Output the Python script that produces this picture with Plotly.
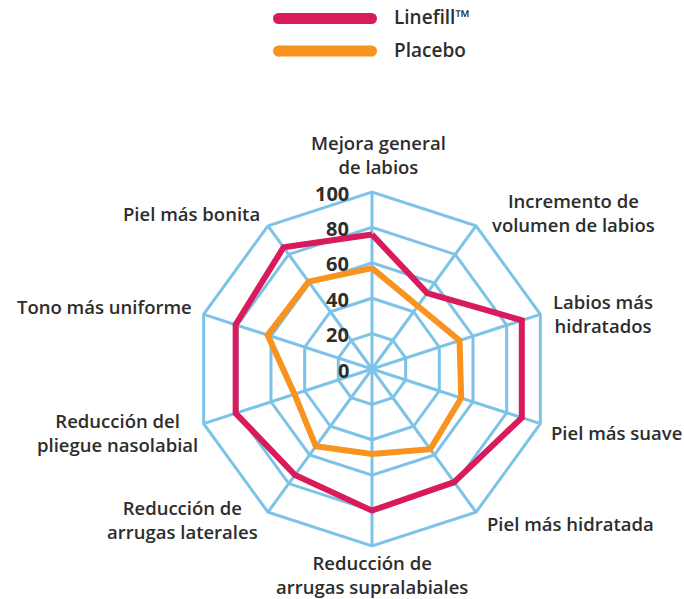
import plotly.graph_objects as go

categories = [
    "Mejora general<br>de labios",
    "Incremento de<br>volumen de labios",
    "Labios más<br>hidratados",
    "Piel más suave",
    "Piel más hidratada",
    "Reducción de<br>arrugas supralabiales",
    "Reducción de<br>arrugas laterales",
    "Reducción del<br>pliegue nasolabial",
    "Tono más uniforme",
    "Piel más bonita",
]
linefill = [76, 53, 89, 89, 79, 80, 74, 81, 81, 85]
placebo = [57, 44, 52, 53, 56, 48, 54, 46, 62, 61]
series_names = ["Linefill™", "Placebo"]
radial_ticks = [0, 20, 40, 60, 80, 100]

W, H = 684, 599
RED = "#D81B5B"
ORANGE = "#F7931E"
BLUE = "#7DC3E8"
TXT = "#2D2D2D"
FONT = "Open Sans"

# pixel placement (screen) of the category label blocks (layout only)
label_pos = [(378, 154.5), (573, 212.5), (603, 313), (616, 432), (570, 523),
             (372, 574), (182, 519), (117, 432), (104, 307), (191, 213)]

fig = go.Figure()
for name, vals, col in [(series_names[0], linefill, RED), (series_names[1], placebo, ORANGE)]:
    fig.add_trace(go.Scatterpolar(
        r=vals + vals[:1], theta=categories + categories[:1],
        mode="lines", name=name, line=dict(color=col, width=6),
        showlegend=False, hoverinfo="skip",
    ))

def px2paper(x, y):
    return x / W, 1 - y / H

# polar centre (372,369) on screen, radius 177 px
CX, CY, R = 372, 369, 177
xa, yb = px2paper(CX - R, CY + R)
xb, ya = px2paper(CX + R, CY - R)
fig.update_layout(
    width=W, height=H,
    margin=dict(l=0, r=0, t=0, b=0),
    paper_bgcolor="white", plot_bgcolor="white",
    font=dict(family=FONT, color=TXT),
    polar=dict(
        domain=dict(x=[xa, xb], y=[yb, ya]),
        bgcolor="white",
        gridshape="linear",
        radialaxis=dict(
            range=[0, 100], tickvals=radial_ticks, angle=90,
            showticklabels=False, showline=False, ticks="",
            gridcolor=BLUE, gridwidth=3,
        ),
        angularaxis=dict(
            rotation=90, direction="clockwise",
            showline=True, linecolor=BLUE, linewidth=3,
            gridcolor=BLUE, gridwidth=3,
            showticklabels=False, ticks="",
        ),
    ),
)

shapes = []
annotations = []

# category labels
for cat, (lx, ly) in zip(categories, label_pos):
    p = px2paper(lx, ly)
    annotations.append(dict(text=cat, x=p[0], y=p[1], xref="paper", yref="paper",
                            xanchor="center", yanchor="middle", align="center", showarrow=False,
                            borderpad=0,
                            font=dict(size=18.5, color=TXT, family=FONT, weight=600)))

# radial tick labels, placed by the radial scale
for v in radial_ticks:
    p = px2paper(CX - 22, CY - R * v / 100 + 1)
    annotations.append(dict(text=str(v), x=p[0], y=p[1], xref="paper", yref="paper",
                            xanchor="right", yanchor="middle", showarrow=False, borderpad=0,
                            font=dict(size=20, color=TXT, family=FONT, weight="bold")))

# custom legend (long rounded bars)
for i, (name, col) in enumerate([(series_names[0], RED), (series_names[1], ORANGE)]):
    yc = 18.5 + 32.5 * i
    h = 11
    x0, x1 = 278.5, 371.5
    a = px2paper(x0, yc - h / 2); b = px2paper(x1, yc + h / 2)
    shapes.append(dict(type="rect", xref="paper", yref="paper", x0=a[0], x1=b[0], y0=b[1], y1=a[1],
                       fillcolor=col, line=dict(width=0)))
    for xc in (x0, x1):
        a = px2paper(xc - h / 2, yc - h / 2); b = px2paper(xc + h / 2, yc + h / 2)
        shapes.append(dict(type="circle", xref="paper", yref="paper", x0=a[0], x1=b[0], y0=b[1], y1=a[1],
                           fillcolor=col, line=dict(width=0)))
    p = px2paper(393, yc - 1)
    annotations.append(dict(text=name, x=p[0], y=p[1], xref="paper", yref="paper",
                            xanchor="left", yanchor="middle", showarrow=False, borderpad=0,
                            font=dict(size=19, color=TXT, family=FONT, weight=600)))
fig.update_layout(shapes=shapes, annotations=annotations)

fig.write_html("out.html", config={"displayModeBar": False},
               post_script="document.body.style.margin='0px';document.body.style.padding='0px';")
